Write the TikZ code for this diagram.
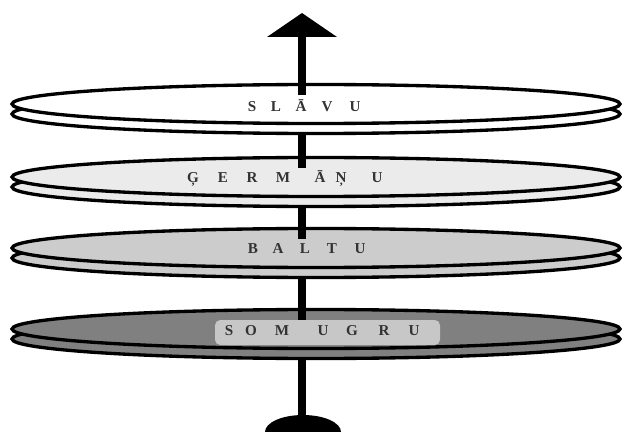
\documentclass[tikz,border=0pt]{standalone}
\usepackage{fontspec}
\setmainfont{Liberation Serif}
\usetikzlibrary{arrows.meta}

\begin{document}
\begin{tikzpicture}[x=0.02cm,y=-0.02cm,
  rim/.style={line width=1.9pt},
  rod/.style={line width=4.3pt},
  lbl/.style={anchor=base,inner sep=0pt,text=black!80,font=\fontsize{8.6}{10}\selectfont\bfseries}]
  \useasboundingbox (0,0) rectangle (622,432);

  \foreach \n/\y/\c in {1/104/white,2/177/black!8,3/248/black!20,4/329/black!50} {
    \draw[rim,fill=\c] (316,\y+10) ellipse [x radius=304,y radius=19.5];
    \draw[rim,fill=\c] (316,\y) ellipse [x radius=304,y radius=19.5];
    \coordinate (top\n) at (302,\y-8.5);
    \coordinate (bot\n) at (302,\y+29.5);
  }

  \coordinate (tip) at (302,13);
  \coordinate (foot) at (302,418);
  \draw[rod,-{Triangle[width=39pt,length=13.6pt]}] (top1) -- (tip);
  \foreach \a/\b in {1/2,2/3,3/4}
    \draw[rod] (bot\a) -- (top\b);
  \draw[rod] (bot4) -- (foot);
  \fill (265,432) arc[start angle=180,end angle=360,x radius=38,y radius=17] -- cycle;

  \fill[black!22,rounded corners=3pt] (215,320) rectangle (440,345);

  \foreach \t/\x [count=\k] in {S/252,L/276,Ā/301,V/327,U/355}
    \node[lbl] (slavu\k) at (\x,112) {\t};
  \foreach \t/\x [count=\k] in {Ģ/193,E/223,R/252,M/283,Ā/320,Ņ/341,U/377}
    \node[lbl] (germanu\k) at (\x,183) {\t};
  \foreach \t/\x [count=\k] in {B/253,A/278,L/305,T/332,U/360}
    \node[lbl] (baltu\k) at (\x,254) {\t};
  \foreach \t/\x [count=\k] in {S/229,O/251,M/282,U/323,G/352,R/384,U/414}
    \node[lbl] (somugru\k) at (\x,336) {\t};
\end{tikzpicture}
\end{document}
